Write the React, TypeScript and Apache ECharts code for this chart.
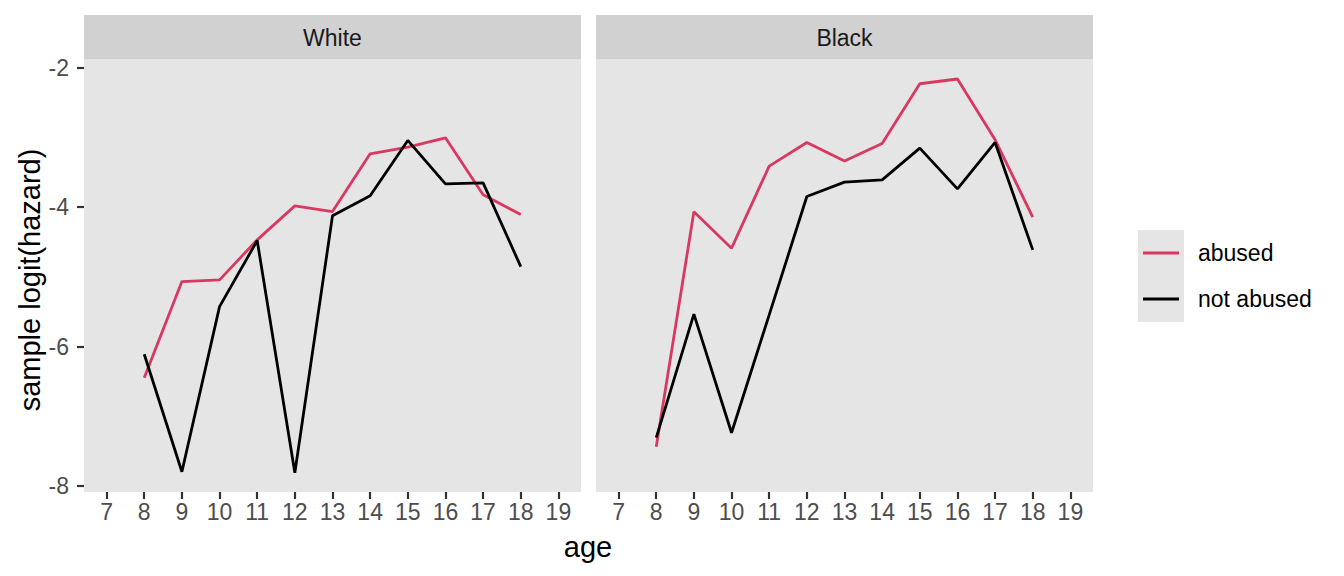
import React, { useEffect, useRef } from "react";
import * as echarts from "echarts";

const ages = [8, 9, 10, 11, 12, 13, 14, 15, 16, 17, 18];
const whiteAbused = [-6.445, -5.067, -5.043, -4.469, -3.981, -4.063, -3.234, -3.138, -3.005, -3.823, -4.106];
const whiteNotAbused = [-6.109, -7.795, -5.426, -4.479, -7.809, -4.124, -3.837, -3.043, -3.665, -3.651, -4.852];
const blackAbused = [-7.436, -4.067, -4.588, -3.411, -3.072, -3.339, -3.087, -2.23, -2.162, -3.033, -4.143];
const blackNotAbused = [-7.306, -5.535, -7.235, -5.545, -3.847, -3.641, -3.608, -3.153, -3.737, -3.072, -4.612];
const panels = ["White", "Black"];
const groups = ["abused", "not abused"];
const xTicks = [7, 8, 9, 10, 11, 12, 13, 14, 15, 16, 17, 18, 19];
const yTicks = [-8, -6, -4, -2];

const RED = "#D93860";
const BLACK = "#000000";
const FONT = "Liberation Sans, Arial, Helvetica, sans-serif";

export default function App() {
  const ref = useRef<HTMLDivElement>(null);
  useEffect(() => {
    if (!ref.current) return;
    const chart = echarts.init(ref.current, undefined, { renderer: "svg" });
    const grids = [
      { left: 84, top: 59, width: 497, height: 433 },
      { left: 596, top: 59, width: 497, height: 433 },
    ];
    const xAxis = grids.map((_, i) => ({
      type: "value",
      gridIndex: i,
      min: 6.4,
      max: 19.6,
      splitLine: { show: false },
      axisLine: { show: false },
      axisTick: { show: true, length: 7, customValues: xTicks, lineStyle: { color: "#333333", width: 2.2 } },
      axisLabel: {
        customValues: xTicks,
        color: "#4D4D4D",
        fontSize: 23,
        fontFamily: FONT,
        margin: 8,
      },
    }));
    const yAxis = grids.map((_, i) => ({
      type: "value",
      gridIndex: i,
      min: -8.085,
      max: -1.875,
      splitLine: { show: false },
      axisLine: { show: false },
      axisTick: { show: i === 0, length: 7, customValues: yTicks, lineStyle: { color: "#333333", width: 2.2 } },
      axisLabel: {
        show: i === 0,
        customValues: yTicks,
        color: "#4D4D4D",
        fontSize: 23,
        fontFamily: FONT,
        margin: 15,
      },
    }));
    const mk = (name: string, data: number[], idx: number, color: string) => ({
      name,
      type: "line",
      xAxisIndex: idx,
      yAxisIndex: idx,
      data: ages.map((a, k) => [a, data[k]]),
      showSymbol: false,
      symbol: "none",
      lineStyle: { color, width: 2.8 },
      itemStyle: { color },
    });
    const series = [
      mk(groups[0], whiteAbused, 0, RED),
      mk(groups[1], whiteNotAbused, 0, BLACK),
      mk(groups[0], blackAbused, 1, RED),
      mk(groups[1], blackNotAbused, 1, BLACK),
    ];
    const graphic: any[] = [];
    grids.forEach((g, i) => {
      graphic.push({
        type: "rect",
        shape: { x: g.left, y: 15, width: g.width, height: 44 },
        style: { fill: "#D1D1D1" },
        silent: true,
        z: -1,
      });
      graphic.push({
        type: "rect",
        shape: { x: g.left, y: g.top, width: g.width, height: g.height },
        style: { fill: "#E5E5E5" },
        silent: true,
        z: -10,
      });
      graphic.push({
        type: "text",
        x: g.left + g.width / 2,
        y: 38,
        style: { text: panels[i], fill: "#1A1A1A", fontSize: 23, fontFamily: FONT, align: "center", verticalAlign: "middle" },
      });
    });
    graphic.push({
      type: "text",
      x: 588,
      y: 547,
      style: { text: "age", fill: "#000", fontSize: 29, fontFamily: FONT, align: "center", verticalAlign: "middle" },
    });
    graphic.push({
      type: "text",
      x: 30,
      y: 280,
      rotation: Math.PI / 2,
      style: { text: "sample logit(hazard)", fill: "#000", fontSize: 29, fontFamily: FONT, align: "center", verticalAlign: "middle" },
    });
    graphic.push({
      type: "rect",
      shape: { x: 1138, y: 230, width: 46, height: 92 },
      style: { fill: "#E5E5E5" },
    });
    [RED, BLACK].forEach((c, k) => {
      const y = 253 + k * 46;
      graphic.push({
        type: "line",
        shape: { x1: 1143, y1: y, x2: 1179, y2: y },
        style: { stroke: c, lineWidth: 2.8 },
      });
      graphic.push({
        type: "text",
        x: 1198,
        y,
        style: { text: groups[k], fill: "#000", fontSize: 23, fontFamily: FONT, align: "left", verticalAlign: "middle" },
      });
    });
    chart.setOption({
      animation: false,
      backgroundColor: "#FFFFFF",
      grid: grids,
      xAxis,
      yAxis,
      series,
      graphic,
    });
    return () => chart.dispose();
  }, []);
  return <div ref={ref} style={{ position: "fixed", left: 0, top: 0, width: 1344, height: 576 }} />;
}
